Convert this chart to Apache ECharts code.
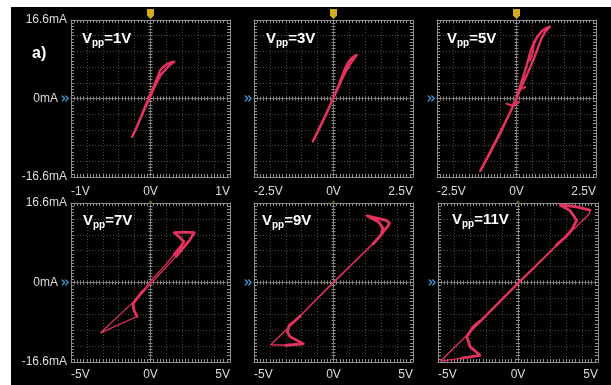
<!DOCTYPE html>
<html>
<head>
<meta charset="utf-8">
<script src="https://cdn.jsdelivr.net/npm/echarts@6/dist/echarts.min.js"></script>
<style>
  html, body { margin: 0; padding: 0; background: #fff; }
  #frame { position: absolute; left: 11px; top: 7px; width: 600px; height: 378px; background: #000; }
  #chart { position: absolute; left: 0; top: 0; width: 611px; height: 385px; }
</style>
</head>
<body>
<div id="frame"></div>
<div id="chart"></div>
<script>
// ---- panel settings ----
const panelTitles = ['1V', '3V', '5V', '7V', '9V', '11V'];
const xLimits = [1, 2.5, 2.5, 5, 5, 5];            // volts, symmetric range
const xSteps = [0.2, 0.5, 0.5, 1, 1, 1];            // one grid division
const xTickLabels = [
  ['-1V', '0V', '1V'],
  ['-2.5V', '0V', '2.5V'],
  ['-2.5V', '0V', '2.5V'],
  ['-5V', '0V', '5V'],
  ['-5V', '0V', '5V'],
  ['-5V', '0V', '5V']
];
const yLimit = 16.6;                                 // mA
const yStep = 3.32;
const yTickLabels = ['-16.6mA', '0mA', '16.6mA'];

// ---- measured I-V traces [V, mA] ----
const loop1 = [
  [-0.23, -8.1], [-0.17, -5.9], [-0.11, -3.6], [-0.05, -1.3], [0.01, 0.9], [0.06, 2.8],
  [0.10, 4.1], [0.13, 5.0], [0.17, 5.8], [0.22, 6.7], [0.26, 7.3], [0.30, 7.8],
  [0.27, 7.7], [0.21, 7.3], [0.16, 6.7], [0.12, 5.9], [0.10, 5.0], [0.07, 3.8],
  [0.03, 2.1], [-0.02, 0.2], [-0.08, -2.2], [-0.14, -4.7], [-0.19, -6.7], [-0.23, -8.1]
];
const loop2 = [
  [-0.65, -9.1], [-0.45, -6.3], [-0.25, -3.5], [-0.05, -0.6], [0.12, 1.9], [0.26, 4.0],
  [0.38, 5.6], [0.50, 7.0], [0.62, 8.2], [0.73, 9.2],
  [0.66, 9.0], [0.55, 8.4], [0.45, 7.5], [0.36, 6.3], [0.27, 4.7], [0.16, 2.8],
  [0.02, 0.6], [-0.20, -2.9], [-0.42, -6.0], [-0.65, -9.1]
];
const loop3 = [
  [-1.14, -15.3], [-0.85, -11.6], [-0.55, -7.6], [-0.28, -4.0], [-0.05, -0.9], [0.12, 2.0],
  [0.30, 4.6], [0.45, 6.9], [0.58, 9.0], [0.68, 10.8], [0.78, 12.6], [0.90, 14.1], [1.05, 15.2],
  [0.96, 15.0], [0.82, 14.4], [0.68, 13.3], [0.56, 12.0], [0.47, 10.6], [0.40, 9.0],
  [0.32, 7.0], [0.22, 4.8], [0.10, 2.3], [0.0, 0.2], [-0.20, -2.9], [-0.50, -7.2],
  [-0.82, -11.4], [-1.14, -15.3]
];
const band3 = [
  [-0.32, -1.1], [-0.12, -1.5], [0.08, -0.8], null,
  [0.08, 1.9], [0.28, 2.4], null,
  [0.42, 8.0], [0.50, 9.4], [0.55, 11.5], [0.66, 13.2]
];
const loop4 = [
  [-3.13, -10.5], [-1.9, -6.6], [-0.72, -3.0], [0.0, -0.3], [0.9, 2.9], [1.6, 5.4],
  [2.1, 7.4], [2.45, 8.8], [2.75, 10.4], [2.2, 10.5], [1.5, 10.4], [1.85, 9.4],
  [2.1, 8.5], [1.9, 7.5], [1.5, 5.9], [0.8, 3.1], [0.0, 0.3], [-0.5, -1.8],
  [-0.85, -3.3], [-1.1, -4.4], [-1.05, -5.7], [-0.85, -7.1], [-3.13, -10.5]
];
const band4 = [
  [1.6, 5.4], [2.1, 7.4], [2.45, 8.8], [2.75, 10.4], [2.2, 10.5], [1.5, 10.4],
  [1.85, 9.4], [2.1, 8.5], [1.9, 7.5], [1.5, 5.9], null,
  [-0.5, -1.8], [-0.85, -3.3], [-1.1, -4.4], [-1.05, -5.7], [-0.85, -7.1]
];
const loop5 = [
  [-3.95, -13.0], [-2.42, -8.1], [-1.2, -4.0], [0.0, 0.0], [1.3, 4.2], [2.5, 8.1],
  [2.9, 9.6], [3.2, 10.9], [3.45, 11.9], [3.52, 12.4], [3.35, 12.9], [2.8, 13.4],
  [2.13, 13.9], [2.82, 12.7], [3.1, 11.4], [3.0, 10.0], [2.6, 8.5], [1.3, 4.3],
  [0.0, 0.1], [-1.2, -3.9], [-2.1, -7.0], [-2.45, -8.1], [-2.78, -8.9], [-2.9, -10.3],
  [-2.74, -11.3], [-1.9, -12.8], [-3.0, -13.1], [-3.95, -13.0]
];
const band5 = [
  [2.5, 8.1], [2.9, 9.6], [3.2, 10.9], [3.45, 11.9], [3.52, 12.4], [3.35, 12.9],
  [2.8, 13.4], [2.13, 13.9], [2.82, 12.7], [3.1, 11.4], [3.0, 10.0], [2.6, 8.5], null,
  [-2.1, -7.0], [-2.45, -8.1], [-2.78, -8.9], [-2.9, -10.3], [-2.74, -11.3],
  [-1.9, -12.8], [-3.0, -13.1]
];
const loop6 = [
  [-4.83, -16.4], [-2.4, -8.4], [0.0, -0.3], [2.4, 7.6], [4.45, 14.3], [4.5, 15.1],
  [3.67, 15.8], [2.63, 16.2], [3.25, 15.0], [3.67, 13.0], [3.35, 11.0], [3.0, 9.6],
  [2.4, 7.8], [0.0, 0.0], [-2.4, -8.1], [-2.79, -9.2], [-3.2, -11.3], [-3.0, -13.4],
  [-2.38, -15.2], [-3.5, -15.8], [-4.83, -16.4]
];
const band6 = [
  [2.4, 7.8], [3.0, 9.6], [3.35, 11.0], [3.67, 13.0], [3.25, 15.0], [2.63, 16.2],
  [3.67, 15.8], [4.5, 15.1], null,
  [-2.4, -8.1], [-2.79, -9.2], [-3.2, -11.3], [-3.0, -13.4], [-2.38, -15.2], [-3.5, -15.8]
];
const loops = [loop1, loop2, loop3, loop4, loop5, loop6];
const bands = [null, null, band3, band4, band5, band6];

// ---- layout ----
const gridBoxes = [
  { left: 71, top: 20, width: 159, height: 157 },
  { left: 254, top: 20, width: 159, height: 157 },
  { left: 437, top: 20, width: 159, height: 157 },
  { left: 71, top: 203, width: 159, height: 159 },
  { left: 254, top: 203, width: 159, height: 159 },
  { left: 438, top: 203, width: 160, height: 159 }
];
const titleOffsets = [[11, 10], [12, 10], [10, 10], [12, 9], [8, 9], [14, 8]];

const TRACE = '#e3325d';
const FRAME = '#8e8e8e';
const GRIDLINE = '#4a4a4a';
const CENTER = '#8a8a8a';
const FONT = '"Liberation Sans", Arial, Helvetica, sans-serif';

const chevron = 'path://M0,0 L4,5 L0,10 L2.5,10 L6.5,5 L2.5,0 Z M5,0 L9,5 L5,10 L7.5,10 L11.5,5 L7.5,0 Z';
const pin = 'path://M0,0 L10,0 L10,9 L5,14 L0,9 Z';

function near(a, b) { return Math.abs(a - b) < 1e-6; }

const xAxes = [], yAxes = [], series = [], graphics = [];

gridBoxes.forEach((g, i) => {
  const L = xLimits[i];
  const labs = xTickLabels[i];
  const row = i < 3 ? 0 : 1;
  const base = { type: 'value', gridIndex: i, min: -L, max: L, interval: xSteps[i] };
  const tickStyle = { color: FRAME, width: 1 };
  // frame bottom (with labels)
  xAxes.push(Object.assign({}, base, {
    position: 'bottom',
    axisLine: { show: true, onZero: false, lineStyle: { color: FRAME } },
    axisTick: { show: true, inside: true, length: 3, lineStyle: tickStyle },
    minorTick: { show: true, splitNumber: 5, length: 3, lineStyle: tickStyle },
    splitLine: { show: true, lineStyle: { color: GRIDLINE, type: [1, 2] } },
    axisLabel: {
      show: true, color: '#dcdcdc', fontSize: 12, fontFamily: FONT,
      margin: row === 0 ? 9 : 7,
      alignMinLabel: 'left', alignMaxLabel: 'right',
      formatter: v => near(v, -L) ? labs[0] : near(v, 0) ? labs[1] : near(v, L) ? labs[2] : ''
    }
  }));
  // frame top
  xAxes.push(Object.assign({}, base, {
    position: 'top',
    axisLine: { show: true, onZero: false, lineStyle: { color: FRAME } },
    axisTick: { show: true, inside: true, length: 3, lineStyle: tickStyle },
    minorTick: { show: true, splitNumber: 5, length: 3, lineStyle: tickStyle },
    splitLine: { show: false }, axisLabel: { show: false }
  }));
  // centre line, ticks on both sides
  [true, false].forEach(inside => {
    xAxes.push(Object.assign({}, base, {
      position: 'bottom',
      axisLine: { show: true, onZero: true, lineStyle: { color: CENTER, type: [1, 2] } },
      axisTick: { show: true, inside: inside, length: 2, lineStyle: { color: CENTER } },
      minorTick: { show: true, splitNumber: 5, length: 2, lineStyle: { color: CENTER } },
      splitLine: { show: false }, axisLabel: { show: false }
    }));
  });

  const yBase = { type: 'value', gridIndex: i, min: -yLimit, max: yLimit, interval: yStep };
  const showY = (i % 3) === 0;
  yAxes.push(Object.assign({}, yBase, {
    position: 'left',
    axisLine: { show: true, onZero: false, lineStyle: { color: FRAME } },
    axisTick: { show: true, inside: true, length: 3, lineStyle: tickStyle },
    minorTick: { show: true, splitNumber: 5, length: 3, lineStyle: tickStyle },
    splitLine: { show: true, lineStyle: { color: GRIDLINE, type: [1, 2] } },
    axisLabel: {
      show: showY, color: '#dcdcdc', fontSize: 12, fontFamily: FONT, margin: 4,
      formatter: v => near(v, -yLimit) ? yTickLabels[0]
        : near(v, 0) ? '{z|' + yTickLabels[1] + '}'
        : near(v, yLimit) ? yTickLabels[2] : '',
      rich: { z: { color: '#dcdcdc', fontSize: 12, fontFamily: FONT, padding: [0, 9, 0, 0] } }
    }
  }));
  yAxes.push(Object.assign({}, yBase, {
    position: 'right',
    axisLine: { show: true, onZero: false, lineStyle: { color: FRAME } },
    axisTick: { show: true, inside: true, length: 3, lineStyle: tickStyle },
    minorTick: { show: true, splitNumber: 5, length: 3, lineStyle: tickStyle },
    splitLine: { show: false }, axisLabel: { show: false }
  }));
  [true, false].forEach(inside => {
    yAxes.push(Object.assign({}, yBase, {
      position: 'left',
      axisLine: { show: true, onZero: true, lineStyle: { color: CENTER, type: [1, 2] } },
      axisTick: { show: true, inside: inside, length: 2, lineStyle: { color: CENTER } },
      minorTick: { show: true, splitNumber: 5, length: 2, lineStyle: { color: CENTER } },
      splitLine: { show: false }, axisLabel: { show: false }
    }));
  });

  const markers = [
    { coord: [-L, 0], symbol: chevron, symbolSize: [8, 6], symbolOffset: [-6, 0],
      itemStyle: { color: '#3d9ddb' } },
    row === 0
      ? { coord: [0, yLimit], symbol: pin, symbolSize: [7, 10], symbolOffset: [0, -6],
          itemStyle: { color: '#cfae1e' } }
      : { coord: [0, yLimit], symbol: 'circle', symbolSize: 3, symbolOffset: [0, -1],
          itemStyle: { color: '#6a5c1a' } }
  ];

  series.push({
    type: 'line', xAxisIndex: 4 * i, yAxisIndex: 4 * i,
    data: loops[i], showSymbol: false, symbol: 'none', clip: false, z: 5,
    lineStyle: { color: TRACE, width: i < 3 ? 2.4 : 1.3, join: 'round', cap: 'round' },
    markPoint: { silent: true, label: { show: false }, data: markers },
    animation: false
  });
  if (bands[i]) {
    series.push({
      type: 'line', xAxisIndex: 4 * i, yAxisIndex: 4 * i,
      data: bands[i], showSymbol: false, symbol: 'none', clip: false, z: 6,
      connectNulls: false,
      lineStyle: { color: TRACE, width: i < 3 ? 2 : 2.8, join: 'round', cap: 'round' },
      animation: false
    });
  }

  graphics.push({
    type: 'text', left: g.left + titleOffsets[i][0], top: g.top + titleOffsets[i][1], z: 10,
    style: {
      text: '{a|V}{b|pp}{a|=' + panelTitles[i] + '}',
      rich: {
        a: { fill: '#ffffff', fontSize: 15, fontWeight: 'bold', fontFamily: FONT, lineHeight: 18, verticalAlign: 'middle' },
        b: { fill: '#ffffff', fontSize: 10, fontWeight: 'bold', fontFamily: FONT, lineHeight: 10, verticalAlign: 'bottom', padding: [8, 0, 0, 0] }
      }
    }
  });
});

graphics.push({
  type: 'text', left: 32, top: 46, z: 10,
  style: { text: 'a)', fill: '#ffffff', fontSize: 16, fontWeight: 'bold', fontFamily: FONT }
});

const chart = echarts.init(document.getElementById('chart'), null, { renderer: 'canvas' });
chart.setOption({
  backgroundColor: 'transparent',
  animation: false,
  grid: gridBoxes.map(g => Object.assign({ containLabel: false }, g)),
  xAxis: xAxes,
  yAxis: yAxes,
  series: series,
  graphic: graphics
});
</script>
</body>
</html>
